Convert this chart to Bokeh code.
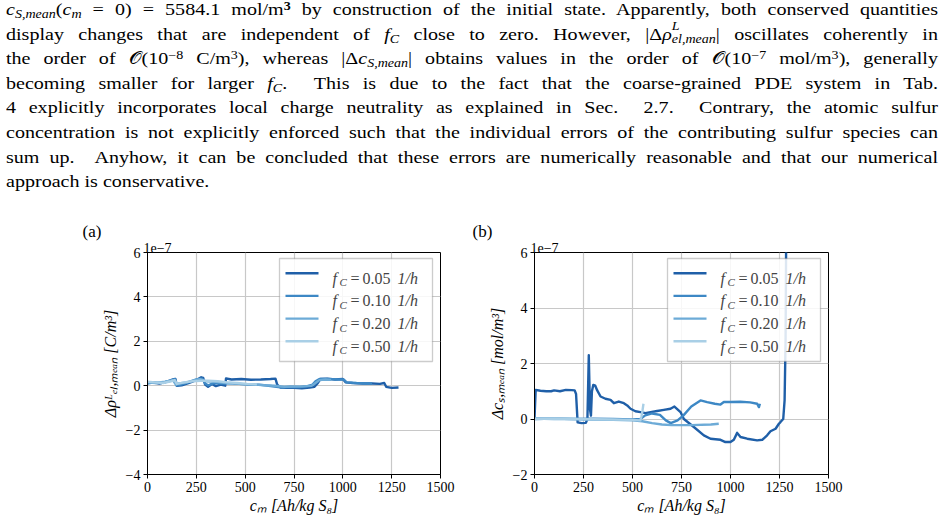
from bokeh.plotting import figure
from bokeh.layouts import column, row
from bokeh.models import Div, FixedTicker, Label, BoxAnnotation, Arrow, Range1d, Title
from bokeh.embed import file_html
from bokeh.resources import INLINE

# ---------------------------------------------------------------- data
# discharge capacity c_m [Ah/kg S8]; deviations stored in units of 1e-7
FC_VALUES = ["0.05", "0.10", "0.20", "0.50"]
COLORS = ["#1f5fa8", "#3d88c5", "#6dabd7", "#a9cfe6"]

X_TICKS = [0, 250, 500, 750, 1000, 1250, 1500]
A_Y_TICKS = [-4, -2, 0, 2, 4, 6]
B_Y_TICKS = [-2, 0, 2, 4, 6]

# (a) charge density deviation  [C/m^3] x 1e-7
A005_X = [0, 25, 60, 100, 130, 143, 150, 175, 210, 250, 275, 285, 295, 310, 330, 350, 375, 398, 402, 430,
          480, 530, 580, 630, 655, 664, 680, 710, 750, 790, 830, 855, 870, 885, 920, 960, 1000, 1015, 1050, 1100,
          1150, 1190, 1212, 1222, 1250, 1285]
A005_Y = [0.12, 0.15, 0.1, 0.18, 0.28, 0.3, 0.0, 0.02, 0.12, 0.25, 0.38, 0.35, 0.05, -0.05, 0.08, -0.02, 0.05, 0.0, 0.33, 0.28,
          0.3, 0.27, 0.28, 0.3, 0.32, 0.05, -0.08, -0.1, -0.1, -0.12, -0.08, -0.05, 0.1, 0.3, 0.32, 0.28, 0.3, 0.15, 0.12, 0.1,
          0.1, 0.08, 0.12, -0.05, -0.1, -0.08]
A010_X = [0, 30, 70, 110, 140, 148, 170, 210, 250, 280, 295, 310, 340, 380, 420, 470, 520, 570, 620, 660,
          690, 730, 780, 820, 845, 860, 880, 920, 970, 1005, 1020, 1070, 1120, 1150]
A010_Y = [0.1, 0.15, 0.12, 0.2, 0.3, 0.02, 0.05, 0.15, 0.28, 0.32, 0.1, 0.02, 0.12, 0.1, 0.12, 0.08, 0.05, 0.05, 0.0, -0.05,
          -0.08, -0.05, -0.06, -0.02, 0.05, 0.2, 0.3, 0.3, 0.28, 0.28, 0.15, 0.12, 0.1, 0.1]
A020_X = [0, 40, 90, 130, 145, 160, 200, 240, 270, 300, 350, 400, 450, 500, 550, 600, 650, 700, 750, 800,
          840, 860, 880, 910, 940]
A020_Y = [0.15, 0.12, 0.18, 0.25, 0.05, 0.1, 0.15, 0.25, 0.3, 0.2, 0.18, 0.12, 0.1, 0.06, 0.05, 0.02, 0.0, -0.05, -0.04, -0.03,
          0.0, 0.12, 0.25, 0.28, 0.26]
A050_X = [0, 40, 80, 120, 140, 150, 190, 230, 270, 310, 360, 410, 460, 510, 560]
A050_Y = [0.18, 0.15, 0.12, 0.2, 0.25, 0.08, 0.15, 0.2, 0.22, 0.22, 0.2, 0.15, 0.12, 0.08, 0.06]

# (b) sulfur concentration deviation  [mol/m^3] x 1e-7
B005_X = [0, 6, 30, 60, 85, 100, 130, 160, 190, 205, 212, 220, 240, 262, 270, 277, 283, 288, 293, 300,
          310, 320, 337, 362, 388, 405, 430, 456, 473, 490, 515, 541, 566, 592, 626, 660, 694, 714, 745, 762,
          813, 864, 898, 949, 974, 1000, 1017, 1034, 1051, 1085, 1136, 1162, 1187, 1204, 1230, 1247, 1255, 1269,
          1276, 1281, 1284]
B005_Y = [0.0, 1.05, 1.02, 1.0, 1.0, 1.03, 1.0, 1.05, 1.04, 1.03, 0.9, -0.12, -0.15, -0.14, 0.0, 2.3, 0.35, 0.12, 1.0, 1.23,
          1.2, 1.03, 0.81, 0.73, 0.69, 0.57, 0.63, 0.57, 0.49, 0.37, 0.28, 0.25, 0.21, 0.25, 0.29, 0.33, 0.37, 0.45, 0.25, 0.0,
          -0.29, -0.59, -0.71, -0.75, -0.83, -0.83, -0.75, -0.5, -0.65, -0.71, -0.77, -0.75, -0.59, -0.44, -0.35, -0.17, -0.11,
          0.0, 0.67, 2.83, 6.5]
B010_X = [0, 100, 200, 300, 400, 500, 540, 565, 600, 640, 670, 695, 730, 760, 800, 847, 881, 920, 949, 966,
          1000, 1050, 1100, 1136, 1145, 1150]
B010_Y = [0.0, 0.02, 0.0, 0.01, 0.0, -0.02, 0.0, 0.13, 0.2, 0.15, -0.05, -0.15, -0.05, 0.13, 0.45, 0.67, 0.61, 0.55, 0.52, 0.61,
          0.61, 0.62, 0.6, 0.55, 0.43, 0.55]
B020_X = [0, 100, 200, 300, 400, 500, 550, 600, 650, 700, 800, 900, 940]
B020_Y = [0.02, 0.0, 0.0, -0.02, -0.03, -0.05, -0.08, -0.15, -0.2, -0.22, -0.22, -0.2, -0.17]
B050_X = [0, 100, 200, 300, 400, 500, 540, 546, 551, 556]
B050_Y = [0.0, 0.02, 0.0, -0.01, -0.02, -0.03, -0.05, 0.1, 0.3, 0.55]

A_SERIES = [(A005_X, A005_Y), (A010_X, A010_Y), (A020_X, A020_Y), (A050_X, A050_Y)]
B_SERIES = [(B005_X, B005_Y), (B010_X, B010_Y), (B020_X, B020_Y), (B050_X, B050_Y)]

SERIF = "Liberation Serif"

# ---------------------------------------------------------------- paragraph
def it(s):
    return f"<i>{s}</i>"

def sub(s):
    return f'<span style="font-size:70%;vertical-align:-0.28em;line-height:0">{s}</span>'

def sup(s):
    return f'<span style="font-size:70%;vertical-align:0.45em;line-height:0">{s}</span>'

def supsub(a, b):
    # subscript keeps the line box untouched; superscript floats above it
    return ('<span style="font-size:70%;vertical-align:-0.28em;line-height:0;position:relative">'
            f'{b}<span style="position:absolute;left:0;top:-0.5em">{a}</span></span>')

LINES = [
    f"{it('c')}{sub(it('S,mean'))}({it('c')}{sub(it('m'))} = 0) = 5584.1 mol/m{sup('<b>3</b>')} by construction "
    "of the initial state. Apparently, both conserved quantities",
    f"display changes that are independent of {it('f')}{sub(it('C'))} close to zero. However, "
    f"|Δ{it('ρ')}{supsub(it('L'), it('el,mean'))}| oscillates coherently in",
    f"the order of 𝒪(10{sup('−8')} C/m{sup('3')}), whereas |Δ{it('c')}{sub(it('S,mean'))}| obtains values "
    f"in the order of 𝒪(10{sup('−7')} mol/m{sup('3')}), generally",
    f"becoming smaller for larger {it('f')}{sub(it('C'))}. &nbsp;This is due to the fact that the coarse-grained "
    "PDE system in Tab.",
    "4 explicitly incorporates local charge neutrality as explained in Sec. &nbsp;2.7. &nbsp;Contrary, the atomic sulfur",
    "concentration is not explicitly enforced such that the individual errors of the contributing sulfur species can",
    "sum up. &nbsp;Anyhow, it can be concluded that these errors are numerically reasonable and that our numerical",
    "approach is conservative.",
]

SCALE_X = 1.18
line_divs = []
for i, txt in enumerate(LINES):
    last = i == len(LINES) - 1
    align = "left" if last else "justify"
    line_divs.append(
        f'<div style="height:24.6px;text-align:{align};text-align-last:{align}">{txt}</div>'
    )

para_html = (
    f'<div style="position:relative;top:-2px;left:6px;width:{932 / SCALE_X:.1f}px;'
    f"transform:scaleX({SCALE_X});transform-origin:0 0;font-family:Liberation Serif,serif;font-size:17px;"
    'line-height:24.6px;color:#000">' + "".join(line_divs) + "</div>"
)
para = Div(text=para_html, width=945, height=215, margin=0)


# ---------------------------------------------------------------- figures
def fmt_tick(t):
    return ("−" + str(-t)) if t < 0 else str(t)


def make_panel(series, y_lo, y_hi, y_ticks, ylabel, tag, left, frame_w, right):
    p = figure(
        frame_width=frame_w, frame_height=222,
        min_border_left=left, min_border_right=right, min_border_top=37, min_border_bottom=44,
        x_range=Range1d(0, 1500), y_range=Range1d(y_lo, y_hi),
        output_backend="svg", toolbar_location=None, margin=0,
    )
    for (xs, ys), col in zip(series, COLORS):
        p.line(xs, ys, line_color=col, line_width=2.4, line_join="round")

    p.xaxis.ticker = FixedTicker(ticks=X_TICKS)
    p.yaxis.ticker = FixedTicker(ticks=y_ticks)
    p.yaxis.major_label_overrides = {t: fmt_tick(t) for t in y_ticks}
    p.xgrid.ticker = FixedTicker(ticks=X_TICKS)
    p.ygrid.ticker = FixedTicker(ticks=y_ticks)
    p.grid.grid_line_color = "#c8c8c8"
    p.grid.grid_line_width = 1.2

    p.xaxis.axis_label = "cₘ [Ah/kg S₈]"
    p.yaxis.axis_label = ylabel
    for ax in (p.xaxis, p.yaxis):
        ax.major_label_text_font = SERIF
        ax.major_label_text_font_size = "14px"
        ax.major_label_text_color = "black"
        ax.axis_label_text_font = SERIF
        ax.axis_label_text_font_size = "16px"
        ax.axis_label_text_font_style = "italic"
        ax.axis_label_text_color = "black"
        ax.major_tick_out = 4
        ax.major_tick_in = 0
        ax.minor_tick_out = 0
        ax.minor_tick_in = 0
        ax.axis_line_color = "black"
        ax.major_tick_line_color = "black"
        ax.major_label_standoff = 3
    p.xaxis.axis_label_standoff = 2
    p.yaxis.axis_label_standoff = 4
    p.outline_line_color = "black"
    p.outline_line_width = 1

    # exponent right above the frame, panel tag further out
    p.add_layout(Title(text="1e−7", align="left", offset=-4, standoff=0, vertical_align="bottom",
                       text_font=SERIF, text_font_size="14px", text_font_style="normal",
                       text_color="black"), "above")
    p.title.text = tag[0]
    p.title.align = "left"
    p.title.offset = tag[1]
    p.title.standoff = 0
    p.title.text_font = SERIF
    p.title.text_font_size = "17px"
    p.title.text_font_style = "normal"
    p.title.text_color = "black"

    # legend box in the upper right corner
    box_r = frame_w - 8
    box_l = box_r - 153
    p.add_layout(BoxAnnotation(left=box_l, right=box_r, top=216, bottom=113,
                               left_units="screen", right_units="screen",
                               top_units="screen", bottom_units="screen",
                               fill_color="white", fill_alpha=0.85,
                               line_color="#555555", line_width=1.3))
    for i, (fc, col) in enumerate(zip(FC_VALUES, COLORS)):
        yr = 201.3 - i * 22.7
        p.add_layout(Arrow(end=None, x_start=box_l + 6, y_start=yr, x_end=box_l + 39, y_end=yr,
                           start_units="screen", end_units="screen", line_color=col, line_width=2.4))
        x0 = box_l + 53
        p.add_layout(Label(x=x0, y=yr - 5, x_units="screen", y_units="screen", text="f",
                           text_font=SERIF, text_font_size="16px", text_font_style="italic",
                           text_baseline="alphabetic"))
        p.add_layout(Label(x=x0 + 7, y=yr - 9, x_units="screen", y_units="screen", text="C",
                           text_font=SERIF, text_font_size="11px", text_font_style="italic",
                           text_baseline="alphabetic"))
        p.add_layout(Label(x=x0 + 18, y=yr - 5, x_units="screen", y_units="screen", text="=",
                           text_font=SERIF, text_font_size="16px", text_baseline="alphabetic"))
        p.add_layout(Label(x=x0 + 30, y=yr - 5, x_units="screen", y_units="screen", text=fc,
                           text_font=SERIF, text_font_size="16px", text_baseline="alphabetic"))
        p.add_layout(Label(x=x0 + 65, y=yr - 5, x_units="screen", y_units="screen", text="1/h",
                           text_font=SERIF, text_font_size="16px", text_font_style="italic",
                           text_baseline="alphabetic"))
    return p


fig_a = make_panel(A_SERIES, -4, 6, A_Y_TICKS, "Δρᴸₑₗ,ₘₑₐₙ [C/m³]", ("(a)", -65), 147, 293, 20)
fig_b = make_panel(B_SERIES, -2, 6, B_Y_TICKS, "Δcₛ,ₘₑₐₙ [mol/m³]", ("(b)", -62), 74, 294, 117)

page = column(para, row(fig_a, fig_b, spacing=0), spacing=0)

open("out.html", "w").write(file_html(page, INLINE))
